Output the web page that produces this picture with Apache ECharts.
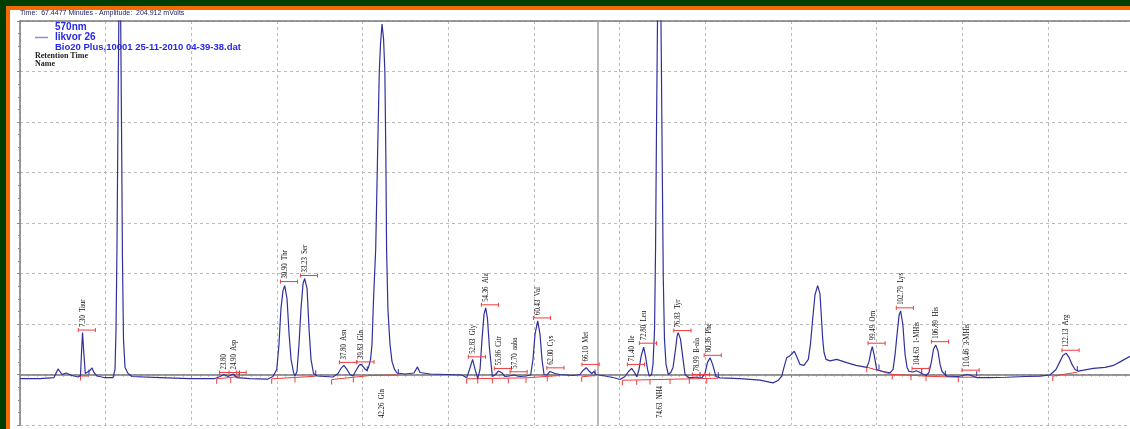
<!DOCTYPE html>
<html lang="en">
<head>
    <meta http-equiv="Content-Type" content="text/html; charset=utf-8"/>
    <title>570nm likvor 26</title>
    <script type="text/javascript" src="https://cdn.jsdelivr.net/npm/echarts@6/dist/echarts.min.js"></script>
</head>
<style>
    * {
        margin: 0;
        padding: 0;
    }
    html, body {
        width: 100%;
        height: 100%;
        overflow: hidden;
    }
    .main {
        width: 1130px;
        height: 429px;
    }
</style>
<body>
<div id="main" class="main"></div>
</body>
<script type="text/javascript">

    // detector trace: [retention time (min), amplitude (mV)]
    var trace = [
        [0.00,-4],[2.33,-4],[3.97,-3],[4.44,5.5],[4.90,0],[5.37,1.5],[5.60,1],[6.07,-1],[6.77,-2.5],[7.06,-1],
        [7.20,25],[7.30,41.5],[7.42,25],[7.62,1],[7.82,0],[8.17,4],[8.40,6.5],[8.64,2],[8.99,-1.5],[9.81,-3],
        [10.86,-3],[11.09,5],[11.21,45],[11.32,125],[11.44,255],[11.56,375],[11.63,435],[11.73,375],[11.85,245],
        [11.96,115],[12.08,35],[12.26,7],[12.61,1],[13.07,-2],[16.34,-3],[19.84,-4],[22.76,-4],[23.35,-2],
        [23.80,0],[24.28,-2],[24.90,0.5],[25.30,-3],[26.85,-4],[28.95,-4.5],[29.53,-2],[29.97,5],[30.23,30],
        [30.46,65],[30.70,83],[30.90,88],[31.17,75],[31.41,40],[31.64,15],[31.93,2],[32.10,-1.5],[32.33,3],
        [32.57,30],[32.80,65],[33.04,90],[33.23,95],[33.51,85],[33.74,45],[33.97,15],[34.26,1],[34.67,-1.5],
        [36.54,-2.5],[37.12,1],[37.47,6],[37.80,9],[38.17,5],[38.52,0],[38.87,-1.5],[39.22,4],[39.57,9],
        [39.83,10],[40.21,6],[40.47,4],[40.68,7],[40.92,15],[41.09,30],[41.27,75],[41.52,124],[41.73,213],
        [41.94,300],[42.08,327],[42.26,347],[42.44,332],[42.59,300],[42.71,213],[42.79,124],[42.95,64],
        [43.19,30],[43.42,13],[43.72,5],[44.01,1.5],[44.94,0.5],[45.99,1.5],[46.40,7.5],[46.69,2],[47.86,0.5],
        [49.84,0],[51.59,-0.5],[52.14,-3.3],[52.47,5],[52.83,15],[53.12,5],[53.43,-4],[53.70,5],[53.93,35],
        [54.17,60],[54.36,66],[54.57,55],[54.81,25],[55.14,-2],[55.51,0],[55.86,3.5],[56.27,1.5],[56.62,-2],
        [57.08,-1.5],[57.70,-0.5],[58.06,-1.5],[58.37,-2],[59.07,-1.5],[59.61,-0.5],[59.88,15],[60.12,40],
        [60.43,53],[60.70,40],[60.93,15],[61.17,0],[61.52,-0.5],[61.86,3],[62.00,4.3],[62.44,1],[63.03,0],
        [64.55,-1],[65.37,0],[65.72,4],[66.10,6.7],[66.36,4],[66.74,1],[67.00,3],[67.24,0],[68.29,-1.5],
        [69.46,-3.5],[70.04,-5],[70.62,-2],[71.03,3],[71.40,6],[71.73,2],[71.99,-2.3],[72.26,5],[72.50,18],
        [72.80,27],[73.02,18],[73.25,5],[73.46,-1.7],[73.72,0],[73.89,10],[74.07,45],[74.19,125],[74.30,245],
        [74.42,355],[74.51,415],[74.63,465],[74.74,415],[74.86,315],[74.98,195],[75.09,95],[75.23,35],
        [75.41,10],[75.68,0],[75.96,2],[76.23,7],[76.52,25],[76.70,38],[76.83,41.5],[77.10,35],[77.40,15],
        [77.63,0],[78.01,-3],[78.44,-3],[78.99,-2.5],[79.30,-3.5],[79.61,-3],[79.96,1],[80.25,12],[80.55,16.5],
        [80.85,10],[81.24,-2],[81.71,-3.3],[84.05,-4],[86.38,-5.5],[87.90,-8.3],[88.48,-6],[88.91,-1.7],
        [89.18,7],[89.49,16.5],[89.88,18.5],[90.08,19],[90.38,23],[90.70,17],[91.05,10],[91.51,9],[92.02,15],
        [92.27,30],[92.53,55],[92.80,79],[93.11,88],[93.38,80],[93.56,55],[93.70,35],[93.85,22],[94.08,15],
        [94.55,13.5],[95.33,15],[96.50,11.7],[97.58,9],[98.84,7],[99.11,13],[99.34,23],[99.49,27.5],[99.69,20],
        [100.00,5],[100.74,3],[101.56,1.7],[101.91,5],[102.15,20],[102.38,40],[102.62,59],[102.79,63],
        [103.05,50],[103.31,20],[103.55,7],[103.78,3],[104.25,2.5],[104.63,3.7],[104.95,2.5],[105.26,1],
        [105.76,-1],[106.11,2],[106.40,13],[106.63,25],[106.89,29.3],[107.16,23],[107.40,10],[107.63,3],
        [108.18,-1.7],[109.53,-2],[110.08,-1],[110.46,0],[110.90,-0.5],[111.68,-3],[113.23,-3],[115.18,-2.7],
        [117.32,-2],[119.07,-1.7],[120.23,-0.5],[120.93,5],[121.40,13],[121.75,19],[122.13,21],[122.45,17],
        [122.80,10],[123.15,5],[123.54,3.3],[125.29,6],[126.66,7],[127.63,9],[128.41,12.5],[129.57,18]
    ];

    // peak table (labels above the peaks)
    var peakTimes = [7.30, 23.80, 24.90, 30.90, 33.23, 37.80, 39.83, 52.83, 54.36, 55.86, 57.70, 60.43, 62.00,
        66.10, 71.40, 72.80, 76.83, 78.99, 80.36, 99.49, 102.79, 104.63, 106.89, 110.46, 122.13];
    var peakNames = ['Taur', '', 'Asp', 'Thr', 'Ser', 'Asn', 'Gln', 'Gly', 'Ala', 'Citr', 'aaba', 'Val', 'Cys',
        'Met', 'Ile', 'Leu', 'Tyr', 'B-ala', 'Phe', 'Orn', 'Lys', '1-MHis', 'His', '3-MHis', 'Arg'];
    // level of the red marker bar over each peak (mV)
    var peakBars = [44, 2, 2, 92, 98, 12, 12.5, 17.5, 69, 6, 2.7, 56, 6.6, 10, 10, 31, 43.5, 0, 19, 31, 66, 6,
        32.5, 4.3, 24];

    // big peaks whose labels sit under the baseline
    var lowTimes = [42.26, 74.63];
    var lowNames = ['Gln', 'NH4'];

    // integration baselines (red)
    var baseSegs = [
        [[6.77,-1.5],[8.05,-1.5]],
        [[22.96,-4.3],[25.68,-2]],
        [[29.38,-4.3],[34.52,-1.7]],
        [[36.38,-5],[40.86,-1],[44.16,-0.5]],
        [[52.14,-4.3],[59.07,-3.3],[63.03,-1]],
        [[65.57,-2.3],[67.12,-1]],
        [[70.31,-5.7],[81.51,-3.7]],
        [[98.84,7.3],[101.82,0],[104.00,-0.7],[105.76,-1.7],[109.53,-2.7],[111.68,-2.7]],
        [[120.55,-1.7],[123.42,2.3]]
    ];
    // peak start marks (red) and peak end marks (blue)
    var startMarks = [[7.06,-1],[22.96,-4.3],[24.60,-3.5],[29.38,-4.3],[32.10,-3],[36.38,-5],[38.91,-3],
        [52.14,-4.3],[53.43,-4],[55.14,-4],[57.00,-3.8],[59.07,-3.3],[61.55,-2],[65.57,-2.3],[70.31,-5.7],
        [71.99,-5.3],[73.54,-5],[75.88,-4.5],[78.13,-4.2],[80.16,-4],[98.84,7.3],[101.82,0],[104.00,-0.7],
        [105.76,-1.7],[109.53,-2.7],[120.55,-1.7]];
    var endMarks = [[8.05,-1],[25.60,-2],[34.52,-1.7],[40.54,2],[44.16,-0.5],[67.12,-1],[79.38,-3.5],
        [81.51,-3.7],[100.27,4],[105.26,0],[108.02,-2],[111.68,-2.7],[123.42,2.3]];

    var cursorTime = 67.4477;

    var labelFont = 'Liberation Serif';
    var red = '#f03c3c';

    function tickItem(len, color) {
        return function (params, api) {
            var p = api.coord([api.value(0), api.value(1)]);
            return {
                type: 'line',
                shape: {x1: p[0], y1: p[1] - (len < 0 ? 1 : 0), x2: p[0], y2: p[1] + len},
                style: {stroke: color, lineWidth: 1}
            };
        };
    }

    var series = [
        {
            name: 'likvor 26',
            type: 'line',
            data: trace,
            showSymbol: false,
            z: 5,
            lineStyle: {color: '#30309c', width: 1.2},
            markLine: {
                silent: true,
                symbol: 'none',
                label: {show: false},
                lineStyle: {color: '#a8a8a8', width: 1.6, type: 'solid'},
                data: [{xAxis: cursorTime}]
            }
        },
        {
            type: 'custom',
            z: 6,
            data: peakTimes.map(function (t, i) { return [t, peakBars[i]]; }),
            renderItem: function (params, api) {
                var i = params.dataIndex;
                var t = api.value(0), v = api.value(1);
                var a = api.coord([t - 0.5, v]);
                var b = api.coord([t + 1.5, v]);
                var c = api.coord([t, v]);
                var st = {stroke: red, lineWidth: 1};
                return {
                    type: 'group',
                    children: [
                        {type: 'line', shape: {x1: a[0], y1: a[1], x2: b[0], y2: b[1]}, style: st},
                        {type: 'line', shape: {x1: a[0], y1: a[1] - 2, x2: a[0], y2: a[1] + 2}, style: st},
                        {type: 'line', shape: {x1: b[0], y1: b[1] - 2, x2: b[0], y2: b[1] + 2}, style: st},
                        {
                            type: 'text', x: c[0], y: c[1] - 3, rotation: Math.PI / 2, scaleX: 0.8,
                            style: {
                                text: peakTimes[i].toFixed(2) + (peakNames[i] ? '  ' + peakNames[i] : ''),
                                fontFamily: labelFont, fontSize: 8.5, fill: '#111',
                                align: 'left', verticalAlign: 'middle'
                            }
                        }
                    ]
                };
            }
        },
        {
            type: 'custom',
            z: 6,
            data: lowTimes.map(function (t) { return [t, -43]; }),
            renderItem: function (params, api) {
                var i = params.dataIndex;
                var c = api.coord([api.value(0), api.value(1)]);
                return {
                    type: 'text', x: c[0], y: c[1], rotation: Math.PI / 2, scaleX: 0.8,
                    style: {
                        text: lowTimes[i].toFixed(2) + '  ' + lowNames[i],
                        fontFamily: labelFont, fontSize: 8.5, fill: '#111',
                        align: 'left', verticalAlign: 'middle'
                    }
                };
            }
        },
        {type: 'custom', z: 4, data: startMarks, renderItem: tickItem(5, red)},
        {type: 'custom', z: 4, data: endMarks, renderItem: tickItem(-6, '#3030b0')}
    ];

    baseSegs.forEach(function (seg) {
        series.push({
            type: 'line', data: seg, showSymbol: false, z: 4, silent: true,
            lineStyle: {color: red, width: 1}
        });
    });

    var option = {
        backgroundColor: '#ffffff',
        animation: false,
        grid: {left: 20, top: 21, right: 0, bottom: 4},
        xAxis: [
            {
                type: 'value', min: 0, max: 129.57, interval: 10,
                axisLine: {lineStyle: {color: '#7a7a7a', width: 1.5}},
                axisTick: {length: 3, lineStyle: {color: '#8a8a8a'}},
                minorTick: {show: true, splitNumber: 10, length: 2, lineStyle: {color: '#8a8a8a'}},
                axisLabel: {show: false},
                splitLine: {lineStyle: {color: '#bababa', type: [3, 3]}}
            },
            {
                type: 'value', position: 'top', min: 0, max: 129.57,
                axisLine: {lineStyle: {color: '#7a7a7a', width: 1.5}},
                axisTick: {show: false}, axisLabel: {show: false}, splitLine: {show: false}
            }
        ],
        yAxis: {
            type: 'value', min: -50, max: 350, interval: 50,
            axisLine: {show: true, lineStyle: {color: '#7a7a7a', width: 1.5}},
            axisTick: {show: true, length: 3, lineStyle: {color: '#8a8a8a'}},
            minorTick: {show: true, splitNumber: 4, length: 2, lineStyle: {color: '#8a8a8a'}},
            axisLabel: {show: false},
            splitLine: {lineStyle: {color: '#bababa', type: [3, 3]}}
        },
        graphic: [
            // window frame
            {type: 'rect', shape: {x: 0, y: 0, width: 1130, height: 6}, style: {fill: '#003e00'}},
            {type: 'rect', shape: {x: 0, y: 0, width: 6, height: 429}, style: {fill: '#003e00'}},
            {type: 'rect', shape: {x: 6, y: 6, width: 1124, height: 4}, style: {fill: '#f56a00'}},
            {type: 'rect', shape: {x: 6, y: 6, width: 4, height: 423}, style: {fill: '#f56a00'}},
            {
                type: 'text', x: 20, y: 13.5,
                style: {
                    text: 'Time:  67.4477 Minutes - Amplitude:  204.912 mVolts',
                    fontFamily: 'Liberation Sans', fontSize: 7, fill: '#20206e', verticalAlign: 'middle'
                }
            },
            // legend block
            {type: 'line', shape: {x1: 35, y1: 37.5, x2: 48, y2: 37.5}, style: {stroke: '#8c8cd0', lineWidth: 1.5}},
            {
                type: 'text', x: 55, y: 27.5,
                style: {text: '570nm', fontFamily: 'Liberation Sans', fontWeight: 'bold', fontSize: 10,
                    fill: '#2828ea', verticalAlign: 'middle'}
            },
            {
                type: 'text', x: 55, y: 37.5,
                style: {text: 'likvor 26', fontFamily: 'Liberation Sans', fontWeight: 'bold', fontSize: 10,
                    fill: '#2828ea', verticalAlign: 'middle'}
            },
            {
                type: 'text', x: 55, y: 47,
                style: {text: 'Bio20 Plus,10001 25-11-2010 04-39-38.dat', fontFamily: 'Liberation Sans',
                    fontWeight: 'bold', fontSize: 9.5, fill: '#2828ea', verticalAlign: 'middle'}
            },
            {
                type: 'text', x: 35, y: 55.5,
                style: {text: 'Retention Time', fontFamily: 'Liberation Serif', fontWeight: 'bold', fontSize: 8,
                    fill: '#222', verticalAlign: 'middle'}
            },
            {
                type: 'text', x: 35, y: 64,
                style: {text: 'Name', fontFamily: 'Liberation Serif', fontWeight: 'bold', fontSize: 8,
                    fill: '#222', verticalAlign: 'middle'}
            }
        ],
        series: series
    };

    var chart = echarts.init(document.getElementById('main'));
    chart.setOption(option);
</script>

</html>
